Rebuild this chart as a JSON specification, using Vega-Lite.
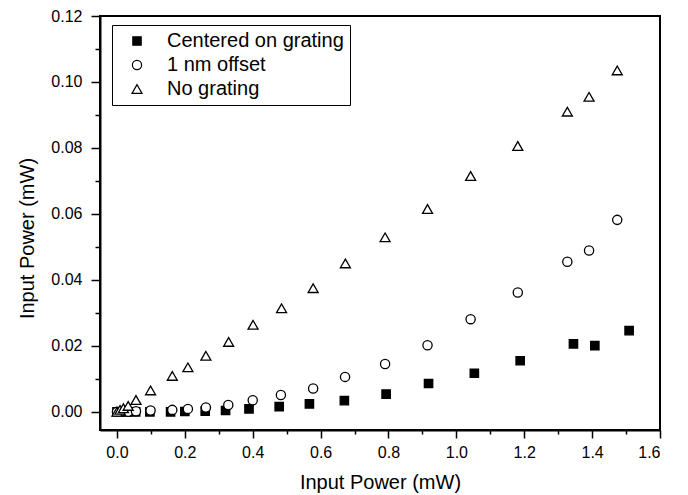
{
  "$schema": "https://vega.github.io/schema/vega-lite/v6.json",
  "width": 560,
  "height": 414,
  "autosize": {"type": "none"},
  "padding": {"left": 100, "top": 16, "right": 28, "bottom": 65},
  "background": "white",
  "config": {
    "view": {"stroke": "black", "strokeWidth": 2},
    "font": "Liberation Sans",
    "legend": {"orient": "none", "legendX": 12, "legendY": 9, "strokeColor": "black", "fillColor": "white", "padding": 6, "labelFontSize": 20, "labelFont": "Liberation Sans", "labelColor": "black", "labelLimit": 400, "rowPadding": 4, "symbolOffset": 9, "labelOffset": 20, "symbolStrokeWidth": 1.2}
  },
  "data": {
    "values": [
      {"series": "Centered on grating", "x": 0.0, "y": 0.0},
      {"series": "Centered on grating", "x": 0.01, "y": 0.0},
      {"series": "Centered on grating", "x": 0.03, "y": 0.0},
      {"series": "Centered on grating", "x": 0.055, "y": 0.0},
      {"series": "Centered on grating", "x": 0.097, "y": 0.0},
      {"series": "Centered on grating", "x": 0.158, "y": 0.0},
      {"series": "Centered on grating", "x": 0.2, "y": 0.0001},
      {"series": "Centered on grating", "x": 0.26, "y": 0.0002},
      {"series": "Centered on grating", "x": 0.32, "y": 0.0004},
      {"series": "Centered on grating", "x": 0.389, "y": 0.0009},
      {"series": "Centered on grating", "x": 0.478, "y": 0.0016},
      {"series": "Centered on grating", "x": 0.567, "y": 0.0024},
      {"series": "Centered on grating", "x": 0.67, "y": 0.0034},
      {"series": "Centered on grating", "x": 0.793, "y": 0.0054},
      {"series": "Centered on grating", "x": 0.918, "y": 0.0086},
      {"series": "Centered on grating", "x": 1.053, "y": 0.0117},
      {"series": "Centered on grating", "x": 1.188, "y": 0.0155},
      {"series": "Centered on grating", "x": 1.345, "y": 0.0206},
      {"series": "Centered on grating", "x": 1.408, "y": 0.0201},
      {"series": "Centered on grating", "x": 1.509, "y": 0.0246},
      {"series": "1 nm offset", "x": 0.0, "y": 0.0},
      {"series": "1 nm offset", "x": 0.01, "y": 0.0},
      {"series": "1 nm offset", "x": 0.033, "y": 0.0},
      {"series": "1 nm offset", "x": 0.056, "y": 0.0002},
      {"series": "1 nm offset", "x": 0.099, "y": 0.0004},
      {"series": "1 nm offset", "x": 0.163, "y": 0.0006},
      {"series": "1 nm offset", "x": 0.209, "y": 0.0009},
      {"series": "1 nm offset", "x": 0.262, "y": 0.0013},
      {"series": "1 nm offset", "x": 0.328, "y": 0.0021},
      {"series": "1 nm offset", "x": 0.4, "y": 0.0035},
      {"series": "1 nm offset", "x": 0.483, "y": 0.0051},
      {"series": "1 nm offset", "x": 0.578, "y": 0.0071},
      {"series": "1 nm offset", "x": 0.672, "y": 0.0106},
      {"series": "1 nm offset", "x": 0.79, "y": 0.0145},
      {"series": "1 nm offset", "x": 0.915, "y": 0.0202},
      {"series": "1 nm offset", "x": 1.042, "y": 0.0281},
      {"series": "1 nm offset", "x": 1.181, "y": 0.0362},
      {"series": "1 nm offset", "x": 1.327, "y": 0.0455},
      {"series": "1 nm offset", "x": 1.391, "y": 0.0489},
      {"series": "1 nm offset", "x": 1.474, "y": 0.0582},
      {"series": "No grating", "x": 0.0, "y": 0.0},
      {"series": "No grating", "x": 0.009, "y": 0.0006},
      {"series": "No grating", "x": 0.019, "y": 0.0011},
      {"series": "No grating", "x": 0.033, "y": 0.0018},
      {"series": "No grating", "x": 0.056, "y": 0.0036},
      {"series": "No grating", "x": 0.099, "y": 0.0065},
      {"series": "No grating", "x": 0.163, "y": 0.0109},
      {"series": "No grating", "x": 0.209, "y": 0.0135},
      {"series": "No grating", "x": 0.262, "y": 0.017},
      {"series": "No grating", "x": 0.329, "y": 0.0212},
      {"series": "No grating", "x": 0.401, "y": 0.0264},
      {"series": "No grating", "x": 0.485, "y": 0.0314},
      {"series": "No grating", "x": 0.578, "y": 0.0375},
      {"series": "No grating", "x": 0.673, "y": 0.045},
      {"series": "No grating", "x": 0.79, "y": 0.0529},
      {"series": "No grating", "x": 0.915, "y": 0.0615},
      {"series": "No grating", "x": 1.042, "y": 0.0715},
      {"series": "No grating", "x": 1.181, "y": 0.0806},
      {"series": "No grating", "x": 1.327, "y": 0.091},
      {"series": "No grating", "x": 1.391, "y": 0.0955},
      {"series": "No grating", "x": 1.474, "y": 0.1035}
    ]
  },
  "layer": [
    {
      "mark": {"type": "point", "opacity": 0},
      "encoding": {
        "x": {
          "field": "x", "type": "quantitative",
          "scale": {"domain": [-0.05, 1.6], "nice": false, "zero": false},
          "axis": {"orient": "bottom", "values": [0.1, 0.3, 0.5, 0.7, 0.9, 1.1, 1.3, 1.5], "labels": false, "domain": false, "grid": false, "title": null, "tickSize": 4, "tickWidth": 1.5, "tickColor": "black"}
        },
        "y": {
          "field": "y", "type": "quantitative",
          "scale": {"domain": [-0.0055, 0.12], "nice": false, "zero": false},
          "axis": {"orient": "left", "values": [0.01, 0.03, 0.05, 0.07, 0.09, 0.11], "labels": false, "domain": false, "grid": false, "title": null, "tickSize": 5, "tickWidth": 1.5, "tickColor": "black"}
        }
      }
    },
    {
      "mark": {"type": "point", "filled": true, "strokeWidth": 1.3, "opacity": 1},
      "encoding": {
        "x": {
          "field": "x", "type": "quantitative",
          "scale": {"domain": [-0.05, 1.6], "nice": false, "zero": false},
          "axis": {"orient": "bottom", "values": [0, 0.2, 0.4, 0.6, 0.8, 1.0, 1.2, 1.4, 1.6], "format": ".1f", "grid": false, "tickSize": 8, "tickWidth": 1.5, "tickColor": "black", "domainColor": "black", "domainWidth": 2, "labelFontSize": 16, "labelColor": "black", "labelPadding": 6, "labelFont": "Liberation Sans", "title": "Input Power (mW)", "titleFontSize": 20, "titleFontWeight": "normal", "titleFont": "Liberation Sans", "titleColor": "black", "titlePadding": 12}
        },
        "y": {
          "field": "y", "type": "quantitative",
          "scale": {"domain": [-0.0055, 0.12], "nice": false, "zero": false},
          "axis": {"orient": "left", "values": [0, 0.02, 0.04, 0.06, 0.08, 0.1, 0.12], "format": ".2f", "grid": false, "tickSize": 9, "tickWidth": 1.5, "tickColor": "black", "domainColor": "black", "domainWidth": 2, "labelFontSize": 16, "labelColor": "black", "labelPadding": 9, "labelFont": "Liberation Sans", "title": "Input Power (mW)", "titleFontSize": 20, "titleFontWeight": "normal", "titleFont": "Liberation Sans", "titleColor": "black", "titlePadding": 13, "titleY": 222}
        },
        "shape": {
          "field": "series", "type": "nominal",
          "scale": {"domain": ["Centered on grating", "1 nm offset", "No grating"], "range": ["square", "circle", "triangle-up"]},
          "legend": {"title": null, "encode": {"legend": {"update": {"strokeWidth": {"value": 1.5}}}}}
        },
        "fill": {
          "field": "series", "type": "nominal",
          "scale": {"domain": ["Centered on grating", "1 nm offset", "No grating"], "range": ["black", "white", "white"]},
          "legend": {"title": null, "encode": {"legend": {"update": {"strokeWidth": {"value": 1.5}}}}}
        },
        "stroke": {
          "field": "series", "type": "nominal",
          "scale": {"domain": ["Centered on grating", "1 nm offset", "No grating"], "range": ["black", "black", "black"]},
          "legend": {"title": null, "encode": {"legend": {"update": {"strokeWidth": {"value": 1.5}}}}}
        },
        "size": {
          "field": "series", "type": "nominal",
          "scale": {"domain": ["Centered on grating", "1 nm offset", "No grating"], "range": [70, 100, 140]},
          "legend": {"title": null, "encode": {"legend": {"update": {"strokeWidth": {"value": 1.5}}}}}
        }
      }
    }
  ],
  "resolve": {"scale": {"x": "independent", "y": "independent"}, "axis": {"x": "independent", "y": "independent"}}
}
